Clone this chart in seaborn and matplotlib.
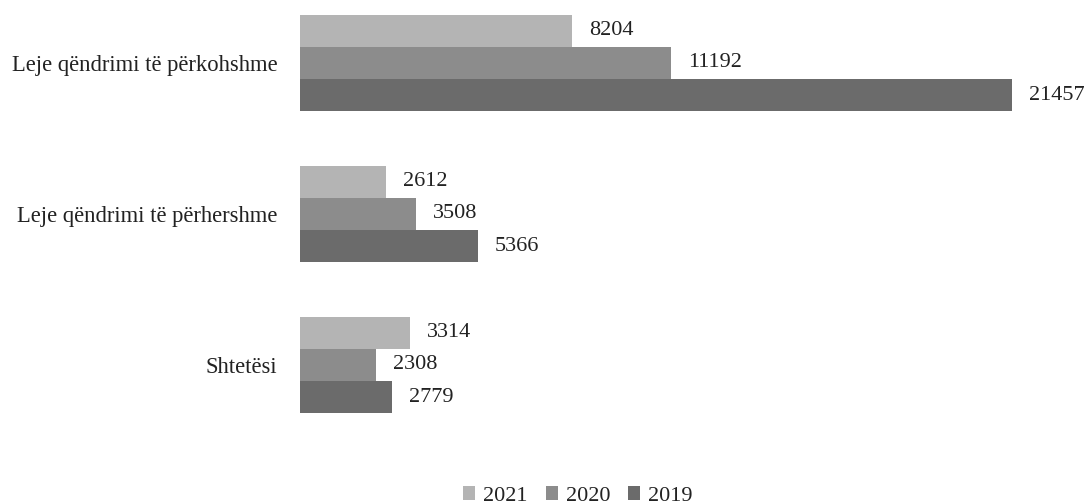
import pandas as pd
import matplotlib.pyplot as plt
import seaborn as sns

categories = ["Leje qëndrimi të përkohshme", "Leje qëndrimi të përhershme", "Shtetësi"]
years = ["2021", "2020", "2019"]
values_2021 = [8204, 2612, 3314]
values_2020 = [11192, 3508, 2308]
values_2019 = [21457, 5366, 2779]
colors = ["#b4b4b4", "#8c8c8c", "#6b6b6b"]

sns.set_style("white")
plt.rcParams["font.family"] = ["Liberation Serif", "DejaVu Serif"]

df = pd.DataFrame({
    "category": categories * 3,
    "year": ["2021"] * 3 + ["2020"] * 3 + ["2019"] * 3,
    "value": values_2021 + values_2020 + values_2019,
})

fig = plt.figure(figsize=(10.86, 5.04), dpi=100)
ax = fig.add_axes([0.276, 0.096, 0.724, 0.899])

sns.barplot(data=df, x="value", y="category", hue="year", hue_order=years,
            order=categories, palette=colors, orient="h", width=0.64,
            saturation=1, linewidth=0, ax=ax, legend=True)

for container in ax.containers:
    ax.bar_label(container, padding=12, fontsize=16, color="#222222")

ax.set_xlim(0, 23675)
ax.set_ylim(2.6, -0.4)
ax.set_xlabel("")
ax.set_ylabel("")
ax.set_xticks([])
ax.tick_params(axis="y", length=0, pad=16, labelsize=16.3, labelcolor="#222222")
sns.despine(ax=ax, left=True, bottom=True)

handles, labels = ax.get_legend_handles_labels()
ax.get_legend().remove()
fig.legend(handles, labels, loc="center", bbox_to_anchor=(0.532, 0.016),
           ncol=3, frameon=False, fontsize=16, handlelength=0.55,
           handleheight=0.55, handletextpad=0.35, columnspacing=0.8,
           labelcolor="#222222", borderpad=0)

fig.savefig("out.png", dpi=100)
